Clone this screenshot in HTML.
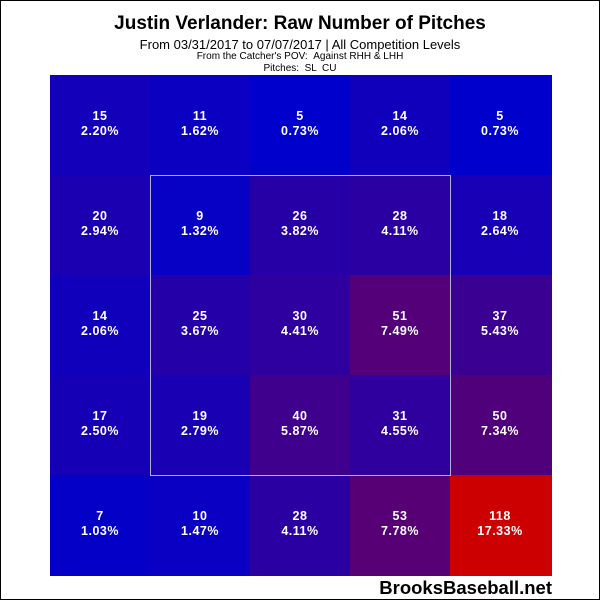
<!DOCTYPE html>
<html><head><meta charset="utf-8"><style>
body{margin:0;background:#fff;}
#f{position:relative;width:598px;height:598px;border:1px solid #000;background:#fff;font-family:"Liberation Sans",Arial,sans-serif;overflow:hidden}
.t{position:absolute;left:0;width:598px;text-align:center;color:#000}
.c{position:absolute;width:101px;height:101px;color:#fff;font-weight:bold;font-size:12.5px;text-align:center;line-height:15px;letter-spacing:0.5px}
.c span{position:absolute;left:0;width:100px;top:34px}
</style></head><body><div id="f">
<div class="t" style="top:12px;font-size:19px;font-weight:bold">Justin Verlander: Raw Number of Pitches</div>
<div class="t" style="top:36px;font-size:13px">From 03/31/2017 to 07/07/2017 | All Competition Levels</div>
<div class="t" style="top:50px;font-size:10px">From the Catcher's POV: &nbsp;Against RHH &amp; LHH</div>
<div class="t" style="top:62px;font-size:10px">Pitches: &nbsp;SL &nbsp;CU</div>
<div id="g"></div>
<div style="position:absolute;left:149px;top:174px;width:301px;height:301px;border:1px solid #b0b0d8;box-sizing:border-box"></div>
<div style="position:absolute;right:47px;top:576px;font-size:18.5px;font-weight:bold;color:#000">BrooksBaseball.net</div>
</div>
<script>
var d=[[15,"2.20"],[11,"1.62"],[5,"0.73"],[14,"2.06"],[5,"0.73"],
[20,"2.94"],[9,"1.32"],[26,"3.82"],[28,"4.11"],[18,"2.64"],
[14,"2.06"],[25,"3.67"],[30,"4.41"],[51,"7.49"],[37,"5.43"],
[17,"2.50"],[19,"2.79"],[40,"5.87"],[31,"4.55"],[50,"7.34"],
[7,"1.03"],[10,"1.47"],[28,"4.11"],[53,"7.78"],[118,"17.33"]];
var h="";
d.forEach(function(v,i){var r=Math.floor(i/5),c=i%5;var t=Math.max(0,(v[0]-5)/113);
var R=Math.round(204*t),B=Math.round(204*(1-t));
h+='<div class="c" style="left:'+(49+c*100)+'px;top:'+(74+r*100)+'px;width:'+(c==4?102:101)+'px;background:rgb('+R+',0,'+B+')"><span>'+v[0]+'<br>'+v[1]+'%</span></div>';});
document.getElementById("g").innerHTML=h;
</script>
</body></html>
